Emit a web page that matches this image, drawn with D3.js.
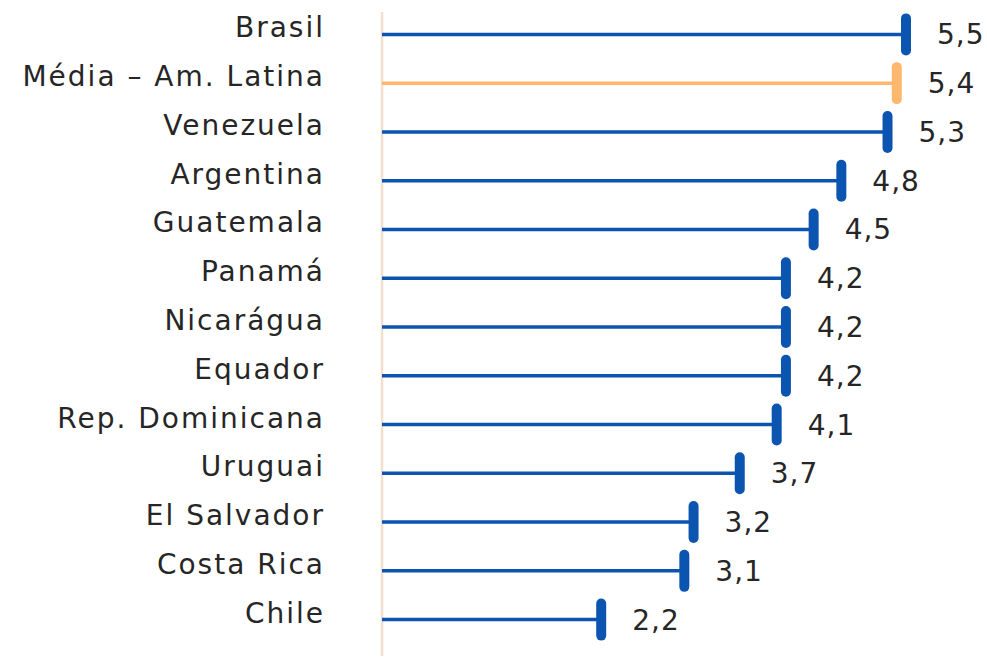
<!DOCTYPE html>
<html>
<head>
<meta charset="utf-8">
<script src="https://cdn.jsdelivr.net/npm/d3@7"></script>
<style>
  body { margin: 0; background: #fff; }
  svg text { font-family: "DejaVu Sans", sans-serif; fill: #262626; }
</style>
</head>
<body>
<svg width="987" height="659"></svg>
<script>
// countries top to bottom
const countries = ["Brasil", "Média – Am. Latina", "Venezuela", "Argentina", "Guatemala", "Panamá",
  "Nicarágua", "Equador", "Rep. Dominicana", "Uruguai", "El Salvador", "Costa Rica", "Chile"]
const values = [5.5, 5.4, 5.3, 4.8, 4.5, 4.2, 4.2, 4.2, 4.1, 3.7, 3.2, 3.1, 2.2]
const highlight = "Média – Am. Latina"

const blue = "#0b55b1", orange = "#fdb86e"
const axisX = 382

const svg = d3.select("svg")

const xScale = d3.scaleLinear().domain([0, 5.5]).range([398, 906])
const yScale = d3.scaleBand().domain(countries).range([10, 644]).padding(0)

const fmt = v => d3.format(".1f")(v).replace(".", ",")

// vertical baseline
svg.append("line")
    .attr("x1", axisX).attr("x2", axisX)
    .attr("y1", 12).attr("y2", 656)
    .attr("stroke", "#f4dfcd")
    .attr("stroke-width", 2.5)

const rows = svg.selectAll("g.row")
    .data(countries.map((c, i) => ({name: c, value: values[i]})))
    .enter()
    .append("g")
    .attr("class", "row")
    .attr("transform", d => "translate(0," + (yScale(d.name) + yScale.bandwidth() / 2) + ")")

rows.append("line")
    .attr("x1", axisX)
    .attr("x2", d => xScale(d.value))
    .attr("stroke", d => d.name == highlight ? orange : blue)
    .attr("stroke-width", 3.5)

rows.append("rect")
    .attr("x", d => xScale(d.value) - 5)
    .attr("y", -21)
    .attr("width", 10)
    .attr("height", 42)
    .attr("rx", 5)
    .attr("fill", d => d.name == highlight ? orange : blue)

rows.append("text")
    .attr("x", 325)
    .attr("y", 3)
    .attr("text-anchor", "end")
    .attr("font-size", 28)
    .attr("letter-spacing", 2)
    .text(d => d.name)

rows.append("text")
    .attr("x", d => xScale(d.value) + 31)
    .attr("y", 10)
    .attr("font-size", 28)
    .attr("letter-spacing", 1)
    .text(d => fmt(d.value))
</script>
</body>
</html>
